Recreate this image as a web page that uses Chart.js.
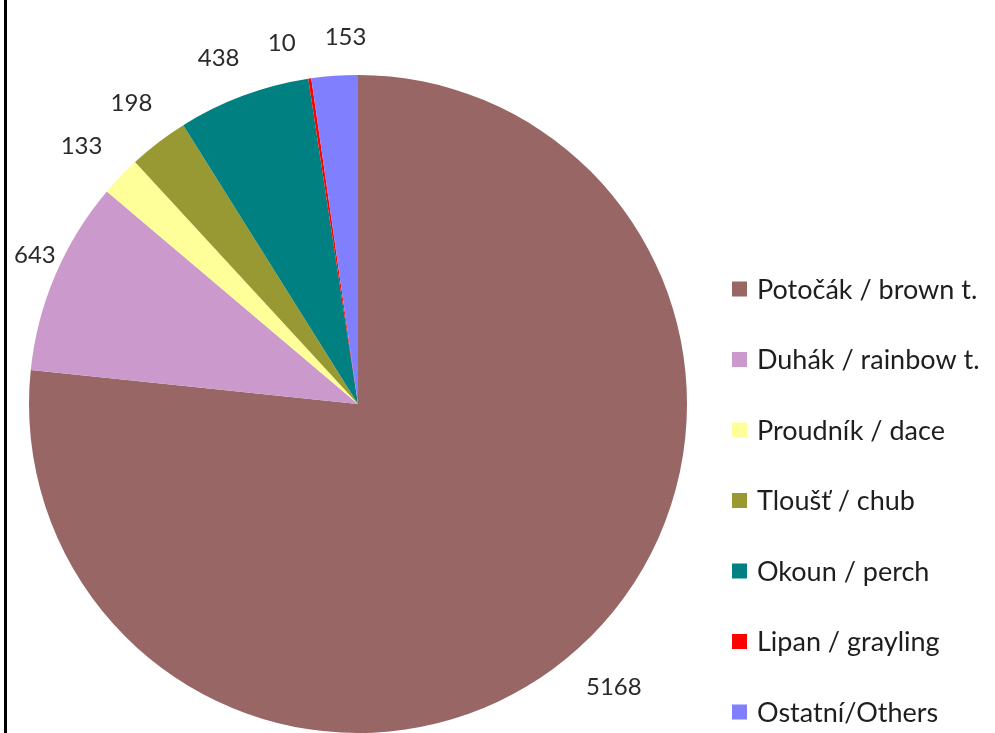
<!DOCTYPE html>
<html>
<head>
<meta charset="utf-8">
<script src="https://cdn.jsdelivr.net/npm/chart.js@4/dist/chart.umd.min.js"></script>
<style>
  html, body { margin: 0; padding: 0; background: #ffffff; }
  #wrap { position: relative; width: 995px; height: 733px; }
  canvas { display: block; }
</style>
</head>
<body>
<div id="wrap"><canvas id="c" width="995" height="733"></canvas></div>
<script>
// ---- data ----
const categories = ['Potočák / brown t.', 'Duhák / rainbow t.', 'Proudník / dace', 'Tloušť / chub', 'Okoun / perch', 'Lipan / grayling', 'Ostatní/Others'];
const counts = [5168, 643, 133, 198, 438, 10, 153];
const sliceColors = ['#996666', '#cc99cc', '#ffff99', '#999933', '#008080', '#ff0000', '#8080ff'];

const FONT = 'Lato, "Open Sans", "Liberation Sans", sans-serif';

// left frame line
const framePlugin = {
  id: 'frame',
  beforeDraw(chart) {
    const ctx = chart.ctx;
    ctx.save();
    ctx.fillStyle = '#ffffff';
    ctx.fillRect(0, 0, chart.width, chart.height);
    ctx.fillStyle = '#000000';
    ctx.fillRect(4, 0, 3, chart.height);
    ctx.restore();
  }
};

// outside-end value labels, spread apart when they crowd each other
const valueLabels = {
  id: 'valueLabels',
  afterDatasetsDraw(chart) {
    const ctx = chart.ctx;
    const arcs = chart.getDatasetMeta(0).data;
    if (!arcs.length) return;
    const cx = arcs[0].x, cy = arcs[0].y, r = arcs[0].outerRadius;
    const ds = chart.data.datasets[0].data;
    ctx.save();
    ctx.font = '24px ' + FONT;
    const txts = ds.map(v => String(v));
    const ws = txts.map(t => ctx.measureText(t).width);
    const hh = 10, gap = 27;
    const ang = arcs.map(a => (a.startAngle + a.endAngle) / 2);
    const minSep = 10 * Math.PI / 180;
    for (let it = 0; it < 100; it++) {
      let moved = false;
      for (let i = ang.length - 2; i >= 1; i--) {
        const diff = ang[i + 1] - ang[i];
        if (diff < minSep - 1e-6) {
          const need = minSep - diff;
          ang[i] -= need * 2 / 3;
          ang[i + 1] += need / 3;
          moved = true;
        }
      }
      if (!moved) break;
    }
    ctx.fillStyle = '#2a2a2a';
    ctx.textAlign = 'center';
    ctx.textBaseline = 'middle';
    txts.forEach((txt, i) => {
      const ux = Math.cos(ang[i]), uy = Math.sin(ang[i]);
      const ext = Math.abs(ux) * ws[i] / 2 + Math.abs(uy) * hh;
      const d = r + gap + ext;
      let x = cx + ux * d, y = cy + uy * d;
      x = Math.max(x, 14 + ws[i] / 2);
      x = Math.min(x, chart.width - 4 - ws[i] / 2);
      y = Math.max(y, 12);
      ctx.fillText(txt, x, y);
    });
    ctx.restore();
  }
};

// legend on the right
const sideLegend = {
  id: 'sideLegend',
  afterDraw(chart) {
    const ctx = chart.ctx;
    const labels = chart.data.labels;
    const colors = chart.data.datasets[0].backgroundColor;
    const x0 = 732, top = 289, step = 70.5, box = 15;
    ctx.save();
    ctx.font = '27px ' + FONT;
    ctx.textBaseline = 'middle';
    ctx.textAlign = 'left';
    labels.forEach((lab, i) => {
      const y = top + step * i;
      ctx.fillStyle = colors[i];
      ctx.fillRect(x0, y - box / 2, box, box);
      ctx.fillStyle = '#1e1e1e';
      ctx.fillText(lab, x0 + 25, y + 1);
    });
    ctx.restore();
  }
};

new Chart(document.getElementById('c'), {
  type: 'pie',
  data: {
    labels: categories,
    datasets: [{
      data: counts,
      backgroundColor: sliceColors,
      borderWidth: 0
    }]
  },
  options: {
    responsive: false,
    devicePixelRatio: 1,
    animation: false,
    layout: { padding: { left: 28, top: 75, right: 307, bottom: 0 } },
    plugins: {
      legend: { display: false },
      tooltip: { enabled: false }
    }
  },
  plugins: [framePlugin, valueLabels, sideLegend]
});
</script>
</body>
</html>
